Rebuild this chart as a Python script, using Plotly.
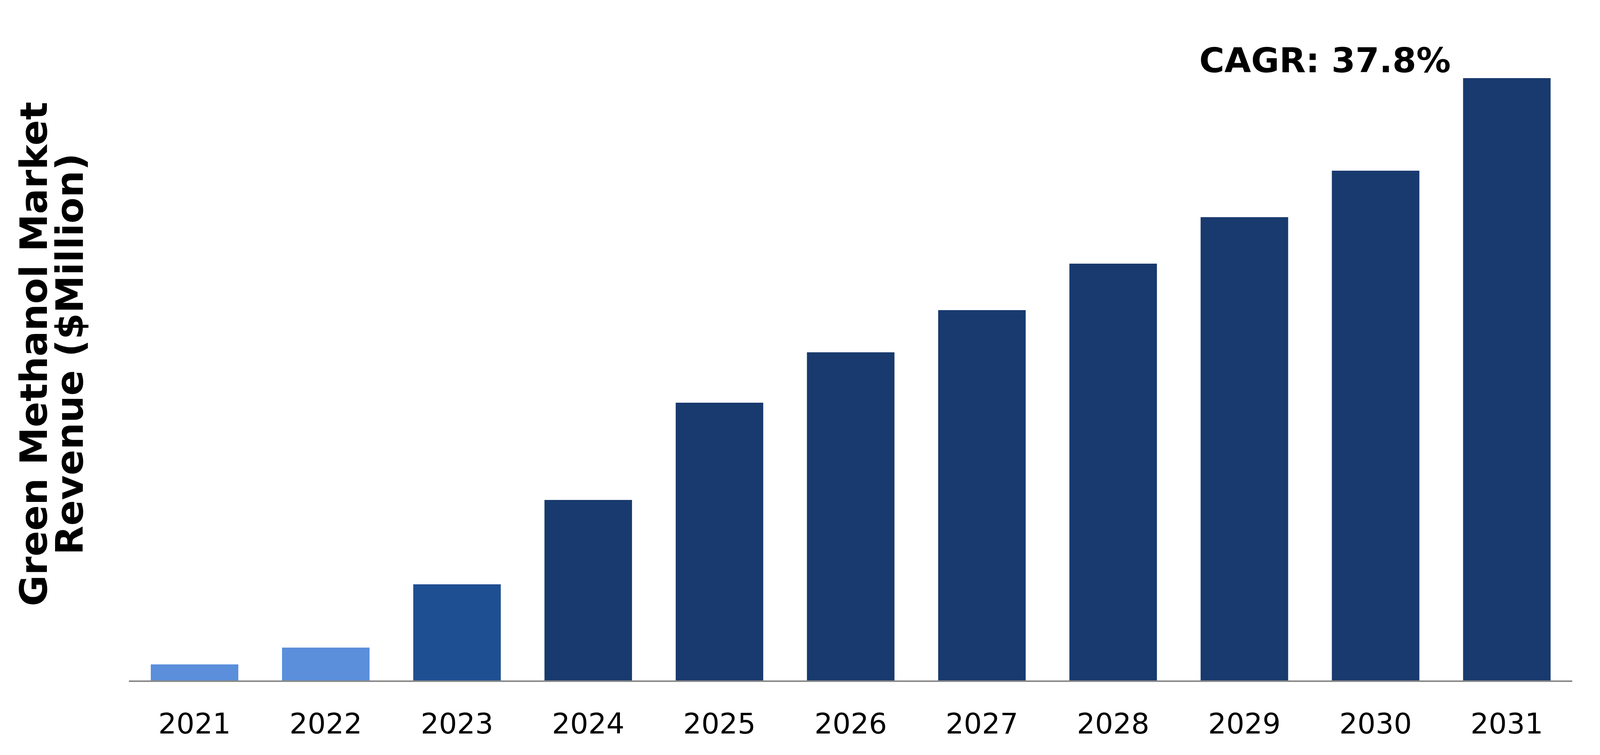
import plotly.graph_objects as go

years = ["2021", "2022", "2023", "2024", "2025", "2026", "2027", "2028", "2029", "2030", "2031"]
revenue = [41, 84, 246, 462, 711, 840, 948, 1067, 1186, 1305, 1542]
bar_colors = ["#5B8FDB", "#5B8FDB", "#1F4F93", "#183A6E", "#183A6E", "#183A6E",
              "#183A6E", "#183A6E", "#183A6E", "#183A6E", "#183A6E"]
y_title_lines = ["Green Methanol Market", "Revenue ($Million)"]
cagr_text = "CAGR: 37.8%"

# reference frame (layout is expressed as fractions of it so it follows the window width)
REF_W, H = 5460, 1933
PLOT_X0, PLOT_X1 = 440, 5366
T, B = 70, 191

fig = go.Figure()
fig.add_trace(go.Bar(x=years, y=revenue, marker=dict(color=bar_colors, line=dict(width=0)),
                     hoverinfo="skip"))

fig.update_layout(
    height=H, autosize=True,
    margin=dict(l=0, r=0, t=T, b=B, pad=0),
    paper_bgcolor="white", plot_bgcolor="white",
    bargap=0.333,
    showlegend=False,
    font=dict(family="DejaVu Sans", color="black"),
    xaxis=dict(type="category", range=[-0.5, 10.5],
               domain=[PLOT_X0 / REF_W, PLOT_X1 / REF_W],
               showgrid=False, zeroline=False,
               showline=True, linecolor="#898989", linewidth=4,
               ticks="", tickfont=dict(family="DejaVu Sans", size=84, color="black"),
               ticklabelstandoff=34, fixedrange=True),
    yaxis=dict(range=[0, H - T - B], showgrid=False, zeroline=False, showline=False,
               showticklabels=False, ticks="", fixedrange=True),
)

fig.add_annotation(xref="paper", yref="paper", x=115 / REF_W, y=0.5,
                   text=y_title_lines[0], textangle=-90, showarrow=False,
                   xanchor="center", yanchor="middle",
                   font=dict(family="DejaVu Sans", size=97, color="black", weight="bold"))
fig.add_annotation(xref="paper", yref="paper", x=237 / REF_W, y=0.5,
                   text=y_title_lines[1], textangle=-90, showarrow=False,
                   xanchor="center", yanchor="middle",
                   font=dict(family="DejaVu Sans", size=97, color="black", weight="bold"))
fig.add_annotation(xref="paper", yref="paper", x=4521 / REF_W, y=1, yshift=-92,
                   text=cagr_text, showarrow=False, xanchor="center", yanchor="middle",
                   font=dict(family="DejaVu Sans", size=102, color="black", weight="bold"))

# If the window is narrower than the reference width, shrink horizontal text a little
fix_js = """
document.body.style.margin = '0';
document.body.style.overflow = 'hidden';
var gd = document.getElementById('{plot_id}');
if (gd && window.Plotly) {
  Promise.resolve(Plotly.Plots.resize(gd)).then(function () {
    var k = Math.sqrt(Math.min(1, window.innerWidth / 5460));
    if (k < 1) {
      return Plotly.relayout(gd, {
        'xaxis.tickfont.size': Math.round(84 * k),
        'xaxis.ticklabelstandoff': Math.round(34 + 75 * (1 - k)),
        'annotations[2].font.size': Math.round(102 * k),
        'annotations[2].yshift': Math.round(-92 + 60 * (1 - k))
      });
    }
  });
}
"""
fig.write_html("out.html", config={"displayModeBar": False, "responsive": True},
               post_script=fix_js)
